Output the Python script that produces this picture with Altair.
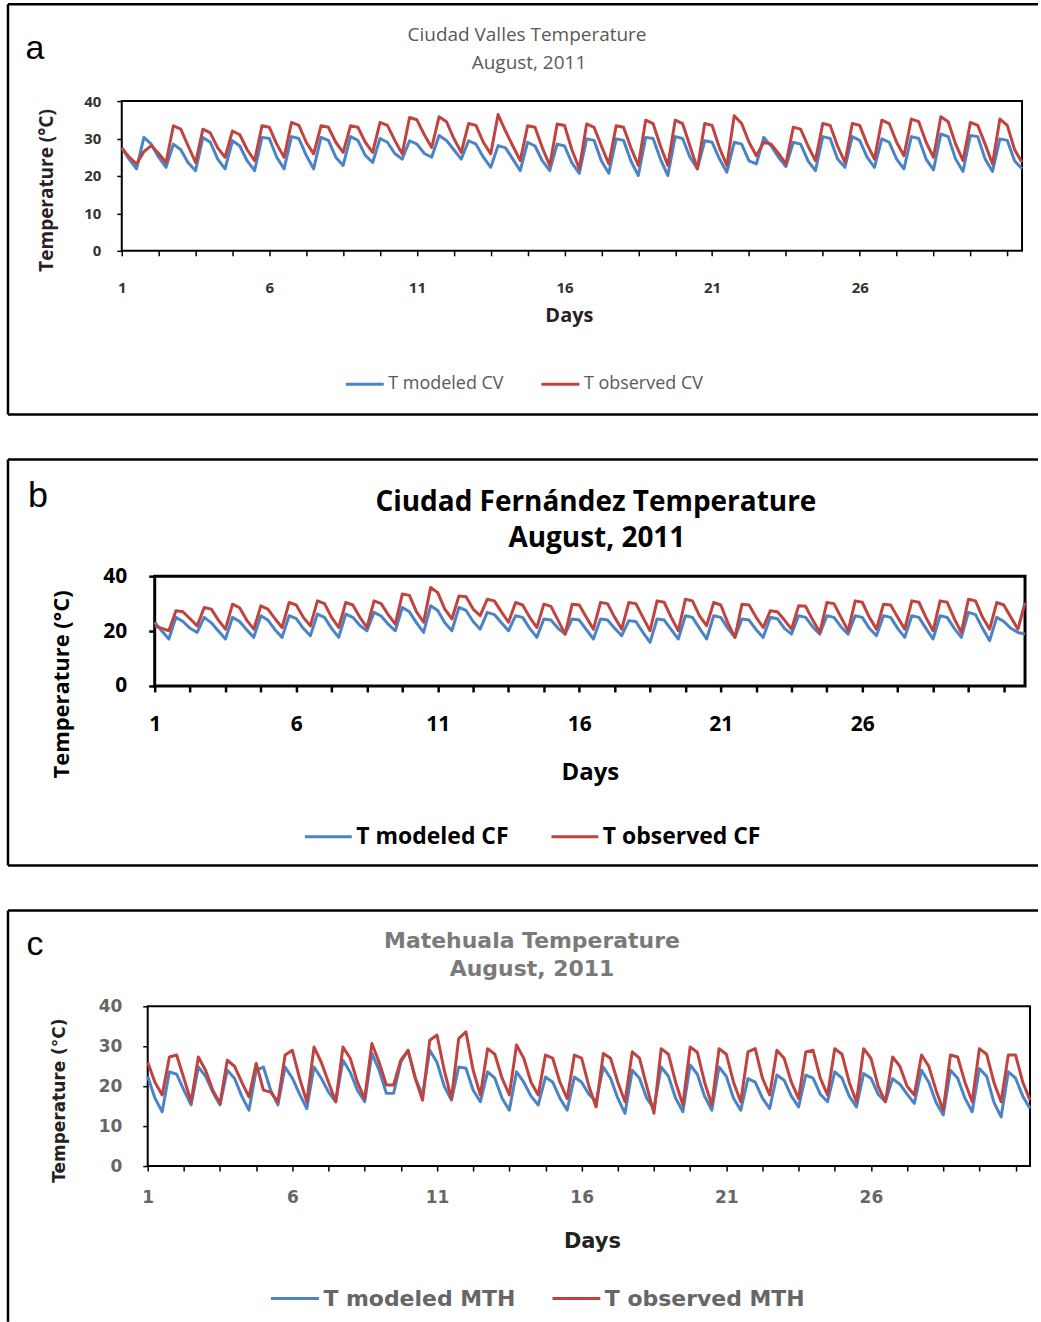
import altair as alt
import pandas as pd

# ---------------- data (4 readings per day, Aug 1 .. Aug 31, 2011) ----------------
a_modeled = [
    27.5, 24.5, 21.9, 30.3,  28.5, 25.0, 22.3, 28.5,  27.0, 23.5, 21.4, 30.3,  29.0, 24.5, 21.9, 29.4,
    28.0, 24.0, 21.4, 30.3,  30.0, 25.0, 21.9, 30.5,  30.0, 25.5, 21.9, 30.3,  29.5, 25.0, 22.8, 30.5,
    29.5, 25.5, 23.6, 30.0,  29.0, 26.0, 24.5, 29.4,  28.5, 26.0, 25.0, 30.8,  29.5, 27.0, 24.5, 29.4,
    28.5, 25.0, 22.3, 28.1,  27.5, 24.5, 21.4, 29.0,  28.0, 24.0, 21.4, 28.5,  28.0, 23.5, 20.7, 29.9,
    29.5, 24.0, 20.7, 29.9,  29.5, 24.0, 20.1, 30.3,  30.0, 24.5, 20.1, 30.5,  30.0, 25.0, 21.9, 29.4,
    29.0, 24.5, 21.0, 29.0,  28.5, 24.0, 23.2, 30.3,  28.0, 25.0, 22.5, 29.0,  28.5, 24.0, 21.4, 30.5,
    30.0, 24.5, 22.3, 30.5,  29.5, 25.0, 22.3, 29.9,  29.0, 24.5, 21.9, 30.5,  30.0, 24.5, 21.6, 31.2,
    30.5, 24.5, 21.2, 30.8,  30.5, 24.5, 21.2, 29.9,  29.5, 24.0, 21.9,
]
a_observed = [
    27.5, 25.0, 23.2, 26.5,  28.1, 26.0, 23.6, 33.4,  32.5, 28.0, 23.6, 32.5,  31.5, 27.5, 25.0, 32.0,
    31.0, 27.0, 24.1, 33.4,  33.0, 28.5, 25.0, 34.3,  33.5, 29.0, 25.9, 33.4,  33.0, 29.0, 26.3, 33.4,
    33.0, 29.0, 26.3, 34.3,  33.5, 29.5, 25.9, 35.6,  35.0, 31.0, 27.6, 35.8,  34.5, 30.0, 26.3, 34.0,
    33.5, 29.0, 25.9, 36.4,  32.0, 28.0, 24.1, 33.4,  33.0, 27.5, 22.8, 33.9,  33.5, 27.0, 21.9, 33.9,
    33.0, 28.0, 23.2, 33.4,  33.0, 27.5, 22.8, 34.9,  34.0, 28.0, 22.8, 34.9,  34.0, 28.0, 21.9, 34.0,
    33.5, 27.5, 22.8, 36.1,  34.0, 29.0, 25.4, 29.0,  28.5, 26.0, 23.2, 33.0,  32.5, 28.0, 24.1, 34.0,
    33.5, 28.0, 23.6, 34.0,  33.5, 28.5, 24.5, 34.9,  34.0, 29.0, 25.4, 35.2,  34.5, 29.0, 25.0, 35.8,
    34.5, 28.5, 24.1, 34.3,  33.5, 28.5, 23.2, 35.2,  33.5, 27.0, 23.6,
]
b_modeled = [
    23.2, 20.0, 17.1, 25.0,  23.5, 21.0, 19.5, 25.0,  23.0, 20.0, 17.1, 25.0,  23.5, 20.5, 17.7, 25.6,
    24.0, 20.5, 17.7, 25.6,  24.5, 21.0, 18.3, 26.2,  25.0, 21.0, 17.7, 26.2,  25.0, 22.0, 20.1, 26.8,
    25.5, 22.5, 20.1, 28.6,  27.0, 23.0, 19.5, 29.2,  27.5, 23.0, 20.1, 28.6,  27.5, 23.5, 20.7, 26.8,
    26.0, 23.0, 20.1, 25.6,  25.0, 21.0, 17.7, 24.4,  24.0, 21.0, 18.9, 24.4,  24.0, 20.5, 17.1, 24.4,
    24.0, 21.0, 18.3, 23.8,  23.5, 19.5, 15.9, 24.4,  24.0, 20.5, 17.1, 25.6,  25.0, 21.0, 17.1, 25.6,
    25.0, 21.0, 17.7, 24.4,  24.0, 20.5, 17.7, 25.0,  24.5, 21.0, 18.9, 25.6,  25.0, 21.5, 18.9, 25.6,
    25.0, 21.5, 18.9, 25.6,  25.0, 21.0, 18.3, 25.6,  25.0, 21.0, 17.7, 25.6,  25.0, 21.0, 17.1, 25.6,
    25.0, 21.0, 17.7, 26.8,  26.0, 21.0, 16.5, 25.0,  23.5, 21.0, 19.5, 18.9,
]
b_observed = [
    21.9, 21.0, 20.1, 27.4,  27.0, 24.5, 21.9, 28.6,  28.0, 24.0, 20.7, 29.8,  28.5, 24.0, 20.7, 29.2,
    28.0, 24.5, 21.3, 30.4,  29.5, 25.0, 21.9, 31.0,  30.0, 25.0, 21.3, 30.4,  29.5, 25.0, 21.3, 31.0,
    30.0, 26.0, 22.5, 33.5,  33.0, 27.0, 23.2, 35.9,  34.0, 28.0, 24.4, 32.8,  32.5, 28.0, 25.6, 31.6,
    31.0, 27.0, 23.2, 30.4,  29.5, 25.0, 21.3, 29.8,  29.0, 24.0, 18.9, 29.8,  29.5, 25.0, 20.7, 30.4,
    30.0, 25.0, 20.7, 30.4,  30.0, 25.0, 20.1, 31.0,  30.5, 25.0, 20.1, 31.6,  31.0, 25.5, 22.0, 30.4,
    29.5, 23.0, 17.7, 29.8,  29.5, 25.0, 21.3, 27.4,  27.0, 24.0, 20.7, 29.2,  29.0, 24.0, 19.5, 30.4,
    30.0, 25.0, 20.1, 31.0,  30.5, 25.0, 20.7, 29.8,  29.5, 25.0, 20.7, 31.0,  30.5, 25.0, 20.1, 31.0,
    30.5, 24.5, 19.5, 31.6,  31.0, 25.0, 20.7, 30.4,  29.5, 25.0, 20.7, 30.4,
]
c_modeled = [
    22.5, 17.0, 13.6, 23.6,  23.0, 19.0, 15.3, 24.8,  22.5, 18.5, 15.3, 24.0,  22.0, 17.5, 14.0, 24.0,
    24.8, 19.0, 15.3, 24.8,  22.0, 18.0, 14.4, 24.8,  22.0, 18.5, 16.1, 26.5,  23.5, 19.0, 16.1, 28.2,
    24.0, 18.2, 18.2, 26.0,  29.0, 22.0, 17.8, 29.0,  26.0, 20.0, 16.5, 24.8,  24.5, 19.0, 16.1, 23.6,
    22.0, 17.0, 14.0, 23.6,  21.0, 17.5, 15.3, 22.3,  21.0, 17.0, 14.0, 22.3,  21.0, 18.0, 16.1, 24.8,
    22.0, 17.0, 13.2, 24.0,  22.0, 17.0, 14.4, 24.8,  22.5, 17.0, 13.6, 25.3,  23.0, 17.5, 14.0, 24.8,
    22.5, 17.0, 14.0, 21.9,  21.0, 17.0, 14.4, 22.8,  21.5, 17.5, 14.8, 22.8,  22.0, 18.0, 16.1, 23.6,
    22.0, 17.5, 14.8, 23.2,  22.0, 18.0, 16.1, 21.9,  20.5, 18.0, 15.7, 24.0,  21.0, 16.0, 12.8, 24.0,
    22.0, 17.0, 13.6, 24.4,  22.5, 16.0, 12.3, 23.6,  22.0, 17.5, 14.4,
]
c_observed = [
    26.0, 21.0, 17.8, 27.3,  27.8, 22.0, 16.1, 27.3,  24.0, 19.0, 15.7, 26.5,  25.0, 21.0, 17.3, 25.7,
    19.0, 18.5, 16.1, 27.8,  29.0, 22.0, 16.1, 29.8,  26.0, 21.0, 16.1, 29.8,  27.0, 21.0, 16.9, 30.7,
    26.0, 20.3, 20.3, 26.5,  29.0, 22.0, 16.5, 31.5,  32.8, 24.0, 16.9, 31.9,  33.6, 24.0, 17.8, 29.4,
    28.0, 22.0, 17.8, 30.3,  27.0, 21.0, 17.8, 27.8,  27.0, 21.0, 16.9, 27.8,  27.0, 20.0, 14.8, 28.2,
    27.0, 21.0, 16.1, 28.6,  27.0, 20.0, 13.2, 29.4,  28.0, 21.0, 15.3, 29.8,  28.5, 21.0, 15.3, 29.4,
    28.0, 21.0, 16.1, 28.6,  29.4, 22.0, 17.8, 29.0,  27.0, 21.0, 16.9, 28.6,  29.0, 22.0, 17.8, 29.4,
    28.0, 21.0, 16.1, 29.4,  27.0, 20.0, 16.1, 27.3,  25.0, 20.0, 17.8, 27.8,  25.0, 19.0, 14.0, 27.8,
    27.3, 21.0, 16.1, 29.4,  28.0, 21.0, 16.1, 27.8,  27.8, 21.0, 16.5,
]

a_names = ["T modeled CV", "T observed CV"]
b_names = ["T modeled CF", "T observed CF"]
c_names = ["T modeled MTH", "T observed MTH"]
a_title = ["Ciudad Valles Temperature", "August, 2011"]
b_title = ["Ciudad Fernández Temperature", "August, 2011"]
c_title = ["Matehuala Temperature", "August, 2011"]
x_ticks = [1 + 1.25 * k for k in range(25)]
x_labels = [1, 6, 11, 16, 21, 26]
a_yticks = [0, 10, 20, 30, 40]
b_yticks = [0, 20, 40]
c_yticks = [0, 10, 20, 30, 40]

BLUE = "#4a84c6"
RED = "#c0433f"
one = pd.DataFrame({"k": [0]})


def series_df(mod, obs, names):
    rows = []
    for name, vals in ((names[0], mod), (names[1], obs)):
        for i, v in enumerate(vals):
            rows.append({"Day": 1 + i / 4, "Temp": v, "Series": name})
    return pd.DataFrame(rows)


def text_layer(txt, x, y, size, color, weight="normal", font="Lato"):
    return alt.Chart(one).mark_text(
        text=txt, font=font, fontSize=size, fontWeight=weight, color=color,
        align="center", baseline="middle"
    ).encode(x=alt.value(x), y=alt.value(y))


def panel(mod, obs, names, title, letter, yticks, s):
    df = series_df(mod, obs, names)
    xmax = 1 + (len(mod) - 1) / 4
    label_expr = "indexof([" + ",".join(str(v) for v in x_labels) + "], datum.value) >= 0 ? datum.label : ''"
    xaxis = alt.Axis(
        values=x_ticks, labelExpr=label_expr, labelOverlap=False, labelFlush=False,
        grid=False, domain=False, ticks=True, tickColor="black", tickSize=s["tick"],
        tickWidth=s["tickw"], labelFont=s["font"], labelFontSize=s["xlab"],
        labelFontWeight="bold", labelColor=s["labcol"], labelPadding=s["xlabpad"],
        title="Days", titleFont=s["font"], titleFontSize=s["days"], titleFontWeight="bold",
        titleColor=s["titlecol"], titleX=s["daysx"], titleY=s["daysy"],
        titleAlign="center", titleBaseline="middle",
    )
    yaxis = alt.Axis(
        values=yticks, grid=False, domain=False, tickColor="black", tickSize=s["tick"],
        tickWidth=s["tickw"], labelFont=s["font"], labelFontSize=s["ylab"],
        labelFontWeight="bold", labelColor=s["labcol"], labelPadding=s["ylabpad"],
        title="Temperature (°C)", titleFont=s["font"], titleFontSize=s["ytitle"],
        titleFontWeight="bold", titleColor=s["titlecol"], titleX=s["ytx"], titleY=s["yty"],
        titleAngle=270, titleAlign="center", titleBaseline="middle",
    )
    legend = alt.Legend(
        orient="none", legendX=s["legx"], legendY=s["legy"], direction="horizontal",
        title=None, symbolType="stroke", symbolSize=s["symlen"] ** 2, symbolStrokeWidth=3,
        labelFont=s["font"], labelFontSize=s["leg"], labelFontWeight=s["legw"],
        labelColor=s["legcol"], labelOffset=3, columnPadding=s["colpad"], padding=0,
        labelLimit=400,
    )
    lines = alt.Chart(df).mark_line(strokeWidth=3, strokeJoin="round").encode(
        x=alt.X("Day:Q", scale=alt.Scale(domain=[1, xmax], nice=False, zero=False), axis=xaxis),
        y=alt.Y("Temp:Q", scale=alt.Scale(domain=[0, 40], nice=False), axis=yaxis),
        color=alt.Color("Series:N", scale=alt.Scale(domain=names, range=[BLUE, RED]), legend=legend),
    )
    f = s["frame"]
    fw = 2.5
    top = alt.Chart(one).mark_rule(color="black", strokeWidth=fw).encode(
        x=alt.value(f[0]), x2=alt.value(f[2]), y=alt.value(f[1]))
    left = alt.Chart(one).mark_rule(color="black", strokeWidth=fw).encode(
        x=alt.value(f[0]), y=alt.value(f[1]), y2=alt.value(f[3]))
    layers = [top, left]
    if f[4]:
        bottom = alt.Chart(one).mark_rule(color="black", strokeWidth=fw).encode(
            x=alt.value(f[0]), x2=alt.value(f[2]), y=alt.value(f[3]))
        layers.append(bottom)
    let = text_layer(letter, s["letter"][0], s["letter"][1], s["letsize"], "black", "normal", "Liberation Sans")
    t1 = text_layer(title[0], s["t1"][0], s["t1"][1], s["tsize"], s["tcol"], s["tweight"], s["font"])
    t2 = text_layer(title[1], s["t2"][0], s["t2"][1], s["tsize"], s["tcol"], s["tweight"], s["font"])
    ch = alt.layer(*layers, let, t1, t2, lines).properties(
        width=s["w"], height=s["h"],
        view=alt.ViewBackground(stroke="black", strokeWidth=s["viewsw"]),
    )
    spacer = alt.Chart(one).mark_rule(strokeWidth=0, opacity=0).encode(
        x=alt.value(0), y=alt.value(0), y2=alt.value(1)
    ).properties(width=1, height=1, view=alt.ViewBackground(stroke="transparent"))
    return alt.hconcat(spacer, ch, spacing=0)


sa = dict(w=902, h=150, font="Open Sans", tick=5, tickw=1.5, xlab=15, ylab=15, labcol="#333333",
          xlabpad=25, ylabpad=16, days=20, titlecol="#2a1f26", daysx=448, daysy=65,
          ytitle=19, ytx=-75, yty=89, legx=342, legy=263, symlen=38, leg=18, legw="normal",
          legcol="#595959", colpad=31, frame=(-114, -97, 918, 314, True), letter=(-87, -52),
          letsize=34, t1=(406, -66), t2=(408, -38), tsize=19, tcol="#595959", tweight="normal",
          viewsw=2)
sb = dict(w=872, h=110, font="Open Sans", tick=6, tickw=2.5, xlab=21, ylab=21, labcol="black",
          xlabpad=22, ylabpad=22, days=24, titlecol="black", daysx=436, daysy=87,
          ytitle=22, ytx=-93, yty=108, legx=301, legy=236, symlen=47, leg=23, legw="bold",
          legcol="black", colpad=36, frame=(-147, -117, 885, 290, True), letter=(-117, -80),
          letsize=36, t1=(442, -73), t2=(443, -37), tsize=28, tcol="black", tweight="bold",
          viewsw=3)
sc = dict(w=884, h=160, font="DejaVu Sans", tick=5, tickw=1.5, xlab=17, ylab=17, labcol="#666666",
          xlabpad=19, ylabpad=21, days=21, titlecol="#222222", daysx=445, daysy=76,
          ytitle=17, ytx=-88, yty=94, legx=267, legy=267, symlen=48, leg=22, legw="bold",
          legcol="#666666", colpad=30, frame=(-140, -96, 892, 316, False), letter=(-113, -61),
          letsize=34, t1=(385, -65), t2=(385, -37), tsize=22, tcol="#7a7a7a", tweight="bold",
          viewsw=2)

row_a = panel(a_modeled, a_observed, a_names, a_title, "a", a_yticks, sa)
row_b = panel(b_modeled, b_observed, b_names, b_title, "b", b_yticks, sb)
row_c = panel(c_modeled, c_observed, c_names, c_title, "c", c_yticks, sc)

chart = alt.vconcat(row_a, row_b, row_c, spacing=39).resolve_scale(
    color="independent"
).resolve_legend(color="independent").properties(
    padding={"left": 2, "top": 0, "right": 0, "bottom": 0},
    background="white",
).configure_view(stroke="transparent")

chart.save("out.html", embed_options={"renderer": "svg", "actions": False})
